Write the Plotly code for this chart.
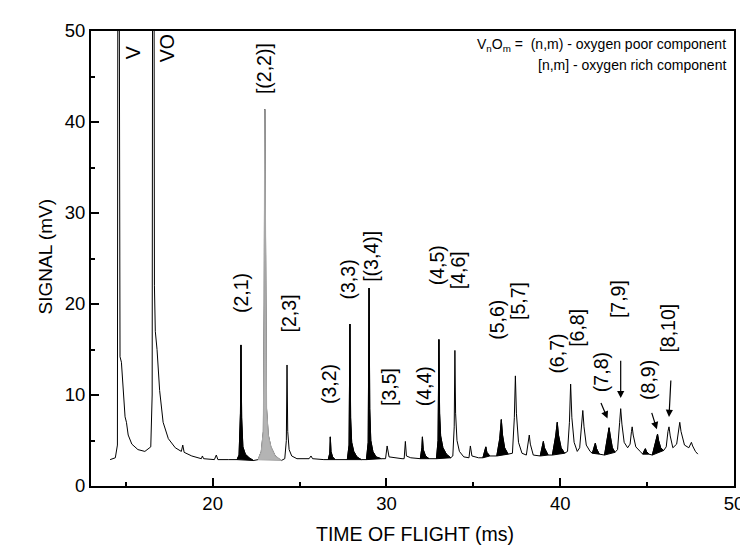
import plotly.graph_objects as go

# ---------------- data ----------------
tof = [
    14.10, 14.40, 14.52, 14.55, 14.61, 14.63, 14.67, 14.75, 14.86, 14.96, 15.04, 15.14, 15.35, 15.70, 16.10, 16.44,
    16.52, 16.55, 16.62, 16.65, 16.70, 16.80, 16.95, 17.15, 17.45, 17.85,
    18.20, 18.28, 18.36, 18.80, 19.35, 19.41, 19.48, 20.10, 20.21, 20.30, 20.90,
    21.40, 21.52, 21.60, 21.63, 21.67, 21.74, 21.88, 22.10, 22.35,
    22.62, 22.80, 22.92, 22.97, 23.00, 23.04, 23.10, 23.20, 23.35, 23.60, 23.95,
    24.15, 24.24, 24.28, 24.32, 24.40, 24.55, 24.85,
    25.55, 25.66, 25.75, 26.40,
    26.65, 26.74, 26.77, 26.81, 26.90, 27.05,
    27.75, 27.85, 27.90, 27.94, 28.00, 28.12, 28.30, 28.55,
    28.85, 28.95, 29.00, 29.04, 29.10, 29.22, 29.40, 29.70,
    29.95, 30.04, 30.15, 30.90,
    31.02, 31.09, 31.15, 31.40, 31.90,
    31.95, 32.04, 32.07, 32.12, 32.25, 32.45,
    32.88, 32.97, 33.02, 33.06, 33.12, 33.25, 33.45, 33.70,
    33.82, 33.90, 33.94, 33.98, 34.06, 34.20, 34.45,
    34.75, 34.83, 34.92, 35.30,
    35.55, 35.68, 35.72, 35.78, 35.95,
    36.35, 36.52, 36.61, 36.68, 36.80, 37.00,
    37.25, 37.36, 37.42, 37.48, 37.60, 37.80,
    38.05, 38.17, 38.22, 38.28, 38.45,
    38.85, 38.98, 39.03, 39.09, 39.30,
    39.55, 39.74, 39.83, 39.90, 40.05, 40.25,
    40.42, 40.53, 40.60, 40.67, 40.80, 40.98,
    41.12, 41.24, 41.30, 41.37, 41.50, 41.72,
    41.85, 41.97, 42.02, 42.09, 42.25,
    42.55, 42.72, 42.81, 42.88, 43.00, 43.15,
    43.30, 43.42, 43.48, 43.55, 43.68, 43.88,
    44.02, 44.10, 44.14, 44.20, 44.35, 44.60,
    44.75, 44.86, 44.90, 44.96, 45.10,
    45.30, 45.50, 45.60, 45.66, 45.78, 45.95,
    46.10, 46.20, 46.26, 46.33, 46.48,
    46.70, 46.82, 46.88, 46.95, 47.15,
    47.40, 47.50, 47.55, 47.62, 47.78, 47.92,
]
signal = [
    2.9, 3.1, 4.5, 70.0, 70.0, 20.0, 14.2, 13.6, 10.0, 7.6, 7.0, 5.6, 4.6, 4.0, 3.8, 4.3,
    10.0, 70.0, 70.0, 22.0, 17.0, 15.0, 10.5, 7.0, 5.2, 4.2,
    3.8, 4.5, 3.7, 3.3, 3.0, 3.3, 3.0, 2.9, 3.4, 2.9, 2.9,
    2.9, 3.4, 8.0, 15.5, 7.5, 4.3, 3.5, 3.1, 2.8,
    2.9, 3.8, 6.0, 20.0, 41.4, 22.0, 8.5, 5.6, 4.3, 3.3, 2.8,
    3.0, 5.0, 13.3, 6.0, 4.0, 3.3, 3.0,
    3.0, 3.3, 3.0, 2.9,
    2.9, 3.6, 5.4, 3.8, 3.2, 2.9,
    2.9, 4.5, 17.8, 7.5, 4.8, 3.8, 3.2, 2.9,
    2.9, 4.8, 21.75, 8.5, 5.0, 3.8, 3.2, 3.0,
    3.0, 4.4, 3.2, 3.0,
    3.0, 4.9, 3.3, 3.1, 3.0,
    3.0, 4.2, 5.4, 4.0, 3.3, 3.0,
    3.0, 5.0, 16.1, 8.0, 5.5, 4.2, 3.5, 3.1,
    3.3, 6.5, 14.9, 8.0, 5.0, 3.8, 3.2,
    3.1, 4.4, 3.3, 3.1,
    3.1, 3.9, 4.3, 3.7, 3.3,
    3.3, 5.2, 7.3, 5.6, 4.2, 3.5,
    3.6, 7.5, 12.1, 8.0, 4.8, 3.6,
    3.4, 4.8, 5.6, 4.6, 3.4,
    3.3, 4.5, 4.9, 4.2, 3.4,
    3.4, 5.5, 7.0, 5.6, 4.2, 3.6,
    3.8, 7.0, 11.2, 7.5, 4.8, 3.8,
    4.2, 6.8, 8.3, 6.5, 4.5, 3.8,
    3.6, 4.4, 4.7, 4.1, 3.5,
    3.4, 5.2, 6.4, 5.5, 4.2, 3.7,
    4.0, 7.0, 8.5, 6.8, 4.8, 4.2,
    4.6, 6.0, 6.5, 5.6, 4.3, 3.8,
    3.5, 4.0, 4.1, 3.8, 3.5,
    3.4, 5.0, 5.7, 5.0, 4.2, 3.9,
    4.3, 6.0, 6.5, 5.5, 4.2,
    4.6, 6.6, 7.0, 6.0, 4.5,
    4.2, 4.6, 4.8, 4.4, 3.8, 3.5,
]

# time windows of the shaded peaks
poor_windows = [(21.40, 22.35), (26.65, 27.05), (27.75, 28.55), (28.85, 29.70),
                (31.95, 32.45), (32.88, 33.70), (35.55, 35.95), (36.35, 37.00),
                (38.85, 39.30), (39.55, 40.25), (41.85, 42.25), (42.55, 43.15),
                (44.75, 45.10), (45.30, 45.95)]
grey_windows = [(22.62, 23.95)]

peak_labels = ["V", "VO", "[(2,2)]", "(2,1)", "[2,3]", "(3,2)", "(3,3)", "[(3,4)]",
               "[3,5]", "(4,4)", "(4,5)", "[4,6]", "(5,6)", "[5,7]", "(6,7)", "[6,8]",
               "(7,8)", "[7,9]", "(8,9)", "[8,10]"]

x_ticks = [20, 30, 40, 50]
y_ticks = [0, 10, 20, 30, 40, 50]

# ---------------- figure ----------------
FONT = "Liberation Sans, Arial, sans-serif"
fig = go.Figure()

fig.add_trace(go.Scatter(x=tof, y=signal, mode="lines",
                         line=dict(color="black", width=1), hoverinfo="skip"))


def window_pts(lo, hi):
    xs = [x for x in tof if lo <= x <= hi]
    ys = [y for x, y in zip(tof, signal) if lo <= x <= hi]
    return xs + [xs[0]], ys + [ys[0]]


for lo, hi in poor_windows:
    xs, ys = window_pts(lo, hi)
    fig.add_trace(go.Scatter(x=xs, y=ys, mode="lines", fill="toself",
                             fillcolor="black", line=dict(color="black", width=1),
                             hoverinfo="skip"))
for lo, hi in grey_windows:
    xs, ys = window_pts(lo, hi)
    fig.add_trace(go.Scatter(x=xs, y=ys, mode="lines", fill="toself",
                             fillcolor="#b4b4b4", line=dict(color="#a8a8a8", width=1.2),
                             hoverinfo="skip"))

# label positions (data coordinates of the label centres)
label_pos = {
    "V": (15.38, 47.6), "VO": (17.37, 48.1), "[(2,2)]": (23.0, 45.9),
    "(2,1)": (21.63, 21.2), "[2,3]": (24.41, 19.0), "(3,2)": (26.69, 11.2),
    "(3,3)": (27.77, 22.66), "[(3,4)]": (29.12, 25.2), "[3,5]": (30.14, 10.86),
    "(4,4)": (32.13, 11.0), "(4,5)": (32.88, 24.3), "[4,6]": (34.11, 23.7),
    "(5,6)": (36.38, 18.3), "[5,7]": (37.61, 20.3), "(6,7)": (39.79, 14.5),
    "[6,8]": (40.92, 17.4), "(7,8)": (42.34, 12.5), "[7,9]": (43.36, 20.5),
    "(8,9)": (45.08, 11.6), "[8,10]": (46.2, 17.4),
}
for lab in peak_labels:
    x, y = label_pos[lab]
    fig.add_annotation(x=x, y=y, xref="x", yref="y", text=lab, textangle=-90,
                       showarrow=False, font=dict(family=FONT, size=19.5, color="black"),
                       xanchor="center", yanchor="middle")

arrows = [((42.31, 9.29), (42.72, 7.41)), ((43.48, 13.94), (43.48, 9.66)),
          ((45.24, 8.2), (45.56, 6.24)), ((46.37, 11.76), (46.26, 7.59))]
for (tx, ty), (hx, hy) in arrows:
    fig.add_annotation(x=hx, y=hy, ax=tx, ay=ty, xref="x", yref="y", axref="x", ayref="y",
                       text="", showarrow=True, arrowhead=2, arrowsize=1.2, arrowwidth=1.2,
                       arrowcolor="black")

fig.add_annotation(x=0.99, y=0.969, xref="paper", yref="paper", xanchor="right", yanchor="middle",
                   text="V<sub>n</sub>O<sub>m</sub> =  (n,m) - oxygen poor component",
                   showarrow=False, font=dict(family=FONT, size=14, color="black"))
fig.add_annotation(x=0.99, y=0.925, xref="paper", yref="paper", xanchor="right", yanchor="middle",
                   text="[n,m] - oxygen rich component",
                   showarrow=False, font=dict(family=FONT, size=14, color="black"))

# axis titles
fig.add_annotation(x=-0.0905, y=0.503, xref="paper", yref="paper", text="SIGNAL (mV)",
                   textangle=-90, showarrow=False, font=dict(family=FONT, size=19, color="black"))
fig.add_annotation(x=0.5046, y=-0.135, xref="paper", yref="paper", text="TIME OF FLIGHT (ms)",
                   showarrow=False, font=dict(family=FONT, size=19.5, color="black"))

axis_common = dict(showline=True, linecolor="black", linewidth=2, mirror=True,
                   ticks="inside", ticklen=8, tickwidth=1.5, tickcolor="black",
                   showgrid=False, zeroline=False,
                   tickfont=dict(family=FONT, size=18.5, color="black"),
                   minor=dict(ticks="inside", ticklen=4, tickwidth=1.5, tickcolor="black", dtick=5))

fig.update_xaxes(range=[13, 50], tickvals=x_ticks, **axis_common)
fig.update_yaxes(range=[0, 50], tickvals=y_ticks, **axis_common)

fig.update_layout(width=748, height=552, margin=dict(l=83, r=13, t=19, b=74),
                  plot_bgcolor="white", paper_bgcolor="white", showlegend=False,
                  font=dict(family=FONT, color="black"))

fig.write_html("out.html")
